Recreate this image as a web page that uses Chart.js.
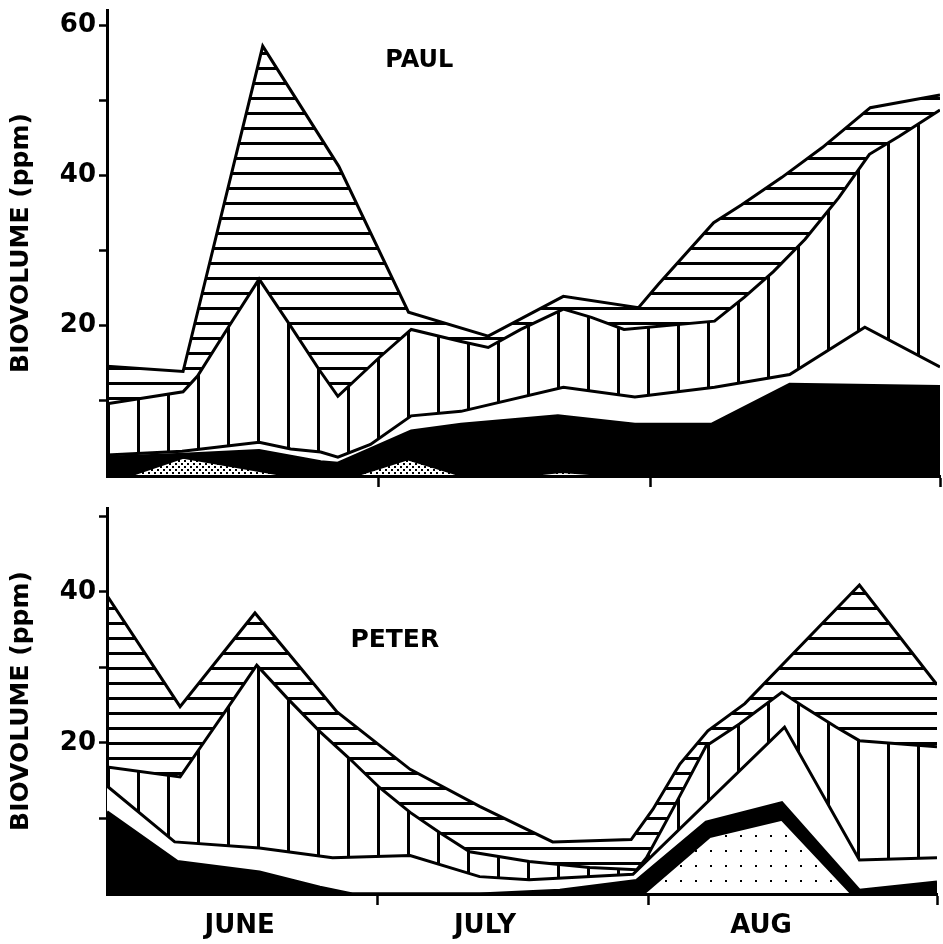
<!DOCTYPE html>
<html>
<head>
<meta charset="utf-8">
<script src="https://cdn.jsdelivr.net/npm/chart.js@4.4.1/dist/chart.umd.min.js"></script>
<style>
  html, body { margin: 0; padding: 0; background: #fff; }
  #wrap { position: relative; width: 943px; height: 944px; }
  #wrap canvas { position: absolute; left: 0; }
  #paul { top: 0; }
  #peter { top: 495px; }
</style>
</head>
<body>
<div id="wrap">
  <canvas id="paul" width="943" height="495" style="width:943px;height:495px"></canvas>
  <canvas id="peter" width="943" height="449" style="width:943px;height:449px"></canvas>
</div>
<script>
// Biovolume bands, PAUL and PETER lakes.
// x = days from 1 June (months drawn as 30 days), y = ppm at the top of each band.
const monthNames = ['JUNE', 'JULY', 'AUG'];
const monthStartDay = [0, 30, 60];
const lastDay = 92;

// PAUL
const paulDotted = [[0, 0], [2.3, 0], [8.4, 2.5], [20.3, 0], [27.2, 0], [33.2, 2.3], [39.4, 0], [45.4, 0], [50.2, 0.6], [57.1, 0], [92, 0]];
const paulBlack = [[0, 2.5], [8.4, 2.9], [16.8, 3.4], [23.6, 1.9], [25.5, 1.7], [29.1, 3.6], [33.6, 6.0], [39.1, 6.9], [49.8, 8.0], [58.3, 6.9], [66.8, 6.9], [75.4, 12.2], [92, 11.9]];
const paulWhite = [[0, 2.8], [8.3, 3.3], [16.8, 4.5], [20.3, 3.6], [23.6, 3.2], [25.5, 2.5], [29.1, 4.2], [33.6, 8.0], [39.1, 8.6], [50.4, 11.8], [58.3, 10.5], [67.1, 11.8], [75.4, 13.5], [83.7, 19.8], [92, 14.5]];
const paulVertical = [[0, 9.6], [8.4, 11.2], [10.0, 13.3], [13.4, 19.8], [16.8, 26.2], [20.3, 19.9], [23.4, 14.2], [25.5, 10.6], [30.2, 15.9], [33.6, 19.5], [39.1, 17.9], [42.1, 17.1], [45.7, 19.5], [50.4, 22.2], [53.5, 21.1], [57.1, 19.5], [67.1, 20.6], [70.4, 23.8], [73.6, 27.2], [77.1, 31.5], [80.8, 37.0], [84.2, 42.8], [87.5, 45.2], [92, 48.7]];
const paulTotal = [[0, 14.6], [8.4, 13.9], [17.2, 57.2], [25.6, 41.2], [33.3, 21.8], [42.1, 18.6], [50.4, 23.9], [58.7, 22.4], [60.9, 25.5], [67.0, 33.7], [70.1, 36.1], [74.5, 39.7], [79.0, 43.7], [84.3, 49.0], [92, 50.7]];
const paulYTicks = [10, 20, 30, 40, 50, 60];

// PETER
const peterDotted = [[0, 0], [59.4, 0], [66.8, 7.6], [74.8, 9.9], [82.6, 0], [92, 0]];
const peterBlack = [[0, 10.9], [7.8, 4.3], [16.9, 2.9], [23.6, 0.9], [27.2, 0], [41.3, 0], [50.2, 0.5], [58.7, 1.8], [66.4, 9.5], [74.8, 12.1], [83.4, 0.5], [92, 1.6]];
const peterWhite = [[0, 14.3], [7.5, 6.9], [16.9, 6.1], [25.0, 4.8], [33.6, 5.1], [41.3, 2.3], [46.8, 1.9], [58.3, 2.6], [75.1, 22.1], [83.4, 4.5], [92, 4.8]];
const peterVertical = [[0, 16.8], [8.1, 15.5], [10.0, 18.8], [13.3, 24.5], [16.6, 30.3], [20.0, 25.9], [23.6, 21.5], [26.9, 17.9], [30.2, 14.1], [33.6, 10.8], [36.9, 8.1], [40.2, 5.6], [46.8, 4.3], [53.5, 3.5], [58.7, 3.2], [59.8, 4.8], [63.1, 12.1], [66.4, 19.6], [70.1, 22.5], [74.8, 26.7], [77.1, 24.9], [80.8, 22.1], [83.4, 20.3], [92, 19.5]];
const peterTotal = [[0, 39.5], [8.1, 24.8], [16.4, 37.2], [25.5, 24.1], [33.6, 16.5], [41.3, 11.6], [49.4, 6.9], [58.1, 7.2], [60.5, 11.2], [63.5, 17.2], [66.6, 21.6], [70.7, 25.2], [83.4, 40.9], [92, 27.7]];
const peterYTicks = [10, 20, 30, 40, 50];

// where the month names sit under the bottom axis (days)
const monthLabelDay = [14.7, 41.9, 72.5];
const font = '"DejaVu Sans", sans-serif';

function tile(ctx, w, h, draw) {
    const c = document.createElement('canvas');
    c.width = w; c.height = h;
    const g = c.getContext('2d');
    g.fillStyle = '#000';
    draw(g);
    return ctx.createPattern(c, 'repeat');
}

const fillMakers = {
    denseDots: ctx => tile(ctx, 6, 6, g => { g.fillRect(1, 1, 2, 2); g.fillRect(4, 4, 2, 2); }),
    sparseDots: ctx => tile(ctx, 15, 15, g => g.fillRect(5, 10, 2, 2)),
    black: () => '#000',
    white: () => '#fff',
    vertical: ctx => tile(ctx, 30, 4, g => g.fillRect(17, 0, 3, 4)),
    horizontal: ctx => tile(ctx, 4, 15, g => g.fillRect(0, 7, 4, 3))
};

// writes the lake name inside the plot
const nameLabel = {
    id: 'nameLabel',
    afterDatasetsDraw(chart, args, opts) {
        const { ctx, scales: { x, y } } = chart;
        ctx.save();
        ctx.font = 'bold ' + opts.size + 'px ' + font;
        ctx.fillStyle = '#000';
        ctx.textAlign = 'center';
        ctx.textBaseline = 'middle';
        ctx.fillText(opts.text, x.getPixelForValue(opts.x), y.getPixelForValue(opts.y));
        ctx.restore();
    }
};

function panel(id, layers, fills, o) {
    const canvas = document.getElementById(id);
    const ctx = canvas.getContext('2d');
    const datasets = layers.map((pts, i) => ({
        data: pts.map(([x, y]) => ({ x, y })),
        borderColor: '#000',
        borderWidth: 3,
        backgroundColor: fillMakers[fills[i]](ctx),
        fill: i === 0 ? 'origin' : '-1',
        pointRadius: 0,
        tension: 0
    }));
    const boundaryTicks = monthStartDay.slice(1).concat([lastDay]);
    const xTicks = o.showMonths ? boundaryTicks.concat(monthLabelDay).sort((a, b) => a - b) : boundaryTicks;

    return new Chart(ctx, {
        type: 'line',
        data: { datasets },
        plugins: [nameLabel],
        options: {
            responsive: false,
            animation: false,
            events: [],
            layout: { padding: { left: 0, right: o.padRight, top: o.padTop, bottom: o.padBottom } },
            plugins: {
                legend: { display: false },
                tooltip: { enabled: false },
                filler: { drawTime: 'beforeDatasetsDraw' },
                nameLabel: o.name
            },
            scales: {
                x: {
                    type: 'linear', min: 0, max: lastDay,
                    afterBuildTicks: s => { s.ticks = xTicks.map(v => ({ value: v })); },
                    afterFit: s => { s.height = o.xHeight; s.paddingLeft = 0; s.paddingRight = 0; },
                    border: { display: true, color: '#000', width: 3 },
                    grid: {
                        drawOnChartArea: false, tickLength: 11, tickWidth: 2.5,
                        tickColor: c => (c.tick && boundaryTicks.includes(c.tick.value)) ? '#000' : 'rgba(0,0,0,0)'
                    },
                    ticks: {
                        display: o.showMonths, autoSkip: false, maxRotation: 0, padding: 6,
                        color: '#000', font: { family: font, size: 26, weight: 'bold' },
                        callback: v => { const i = monthLabelDay.indexOf(v); return i >= 0 ? monthNames[i] : ''; }
                    }
                },
                y: {
                    min: 0, max: o.yMax,
                    afterBuildTicks: s => { s.ticks = o.yTicks.map(v => ({ value: v })); },
                    afterFit: s => { s.width = 107; s.paddingTop = 0; s.paddingBottom = 0; },
                    border: { display: true, color: '#000', width: 3 },
                    grid: { drawOnChartArea: false, tickLength: 8, tickWidth: 2.5, tickColor: '#000' },
                    ticks: {
                        color: '#000', padding: 3, font: { family: font, size: 26, weight: 'bold' },
                        callback: v => v % 20 === 0 ? String(v) : ''
                    },
                    title: {
                        display: true, text: 'BIOVOLUME (ppm)', color: '#000',
                        font: { family: font, size: 25, weight: 'bold' }, padding: { top: 6, bottom: 0 }
                    }
                }
            }
        }
    });
}

panel('paul',
    [paulDotted, paulBlack, paulWhite, paulVertical, paulTotal],
    ['denseDots', 'black', 'white', 'vertical', 'horizontal'],
    { yMax: 62, yTicks: paulYTicks, padTop: 10, padBottom: 5, padRight: 3, xHeight: 14, showMonths: false,
      name: { text: 'PAUL', x: 34.5, y: 55.3, size: 24 } });

panel('peter',
    [peterDotted, peterBlack, peterWhite, peterVertical, peterTotal],
    ['sparseDots', 'black', 'white', 'vertical', 'horizontal'],
    { yMax: 51.1, yTicks: peterYTicks, padTop: 13, padBottom: 0, padRight: 6, xHeight: 50, showMonths: true,
      name: { text: 'PETER', x: 31.9, y: 33.5, size: 25 } });
</script>
</body>
</html>
